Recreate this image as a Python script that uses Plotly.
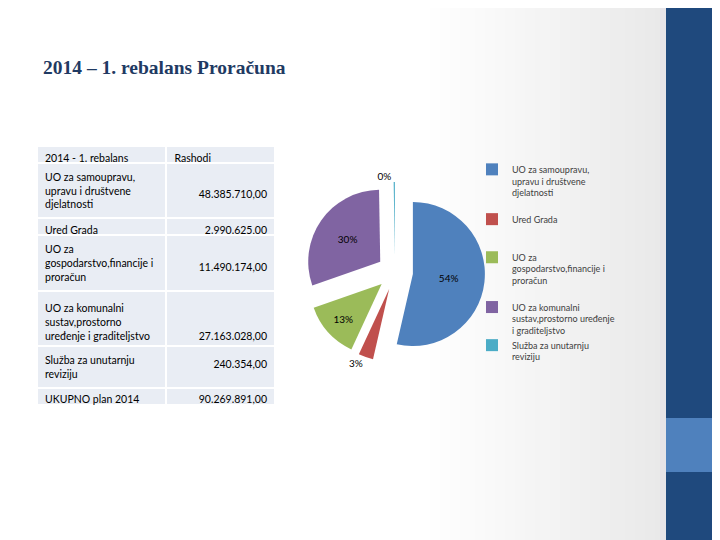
import plotly.graph_objects as go

# ---- data ----
legend_labels = [
    "UO za samoupravu,<br>upravu i društvene<br>djelatnosti<br> ",
    "Ured Grada<br> <br> ",
    "UO za<br>gospodarstvo,financije i<br>proračun<br> ",
    "UO za komunalni<br>sustav,prostorno uređenje<br>i graditeljstvo",
    "Služba za unutarnju<br>reviziju",
]
table_labels = [
    "UO za samoupravu,<br>upravu i društvene<br>djelatnosti",
    "Ured Grada",
    "UO za<br>gospodarstvo,financije i<br>proračun",
    "<br>UO za komunalni<br>sustav,prostorno<br>uređenje i graditeljstvo",
    "Služba za unutarnju<br>reviziju",
]
rashodi = [48385710, 2990625, 11490174, 27163028, 240354]
total_label = "UKUPNO plan 2014"
total_value = 90269891
header = ["2014 - 1. rebalans", "Rashodi"]
title_text = "2014 – 1. rebalans Proračuna"
colors = ["#4F81BD", "#C0504D", "#9BBB59", "#8064A2", "#4BACC6"]


def fmt_hr(v):
    s = f"{v:,.2f}"
    return s.replace(",", "X").replace(".", ",").replace("X", ".")


# page has an 8px body margin; figure fills the rest of the 720x540 window
OFF = 8
W, H = 720 - OFF, 540 - OFF


def px(x):
    return (x - OFF) / W


def py(y):
    return 1 - (y - OFF) / H


# values column bottom-aligned by leading blank lines
val_cells = []
for lab, v in zip(table_labels, rashodi):
    n = lab.count("<br>")
    val_cells.append("<br>" * n + fmt_hr(v))
col1 = table_labels + [total_label]
col2 = val_cells + [fmt_hr(total_value)]

tfont = dict(family="Lato, Liberation Sans, sans-serif", size=10.5, color="#000000")
fig = go.Figure()

fig.add_trace(go.Table(
    domain=dict(x=[px(37), px(276)], y=[0.0, py(146)]),
    columnwidth=[130, 109],
    header=dict(values=header, align=["left", "left"],
                fill_color="#E9EDF4", line=dict(color="white", width=2),
                font=tfont, height=17),
    cells=dict(values=[col1, col2], align=["left", "right"],
               fill_color="#E9EDF4", line=dict(color="white", width=2),
               font=tfont, height=17),
))

textpos = ["inside", "outside", "inside", "inside", "outside"]
fig.add_trace(go.Pie(
    labels=legend_labels,
    values=rashodi,
    sort=False,
    direction="clockwise",
    rotation=0,
    pull=[0.25] * 5,
    marker=dict(colors=colors, line=dict(width=0)),
    texttemplate="%{percent:.0%}",
    textposition=textpos,
    insidetextorientation="horizontal",
    textfont=dict(family="Lato, Liberation Sans, sans-serif", size=10, color="#000000"),
    domain=dict(x=[px(305), px(485)], y=[py(362), py(182)]),
    showlegend=True,
))

shapes = []
# subtle background gradient toward the right
n = 47
x0, x1 = 425, 660
for i in range(n):
    xa = x0 + (x1 - x0) * i / n
    xb = x0 + (x1 - x0) * (i + 1) / n + 0.5
    g = round(255 - (255 - 233) * (i + 0.5) / n)
    shapes.append(dict(type="rect", xref="paper", yref="paper",
                       x0=px(xa), x1=px(xb), y0=0, y1=1,
                       fillcolor=f"rgb({g},{g},{g})", line=dict(width=0), layer="below"))
shapes.append(dict(type="rect", xref="paper", yref="paper", x0=px(660), x1=px(666), y0=0, y1=1,
                   fillcolor="#E6E4E8", line=dict(width=0), layer="below"))
shapes.append(dict(type="rect", xref="paper", yref="paper", x0=px(666), x1=1, y0=0, y1=1,
                   fillcolor="#1F497D", line=dict(width=0), layer="below"))
shapes.append(dict(type="rect", xref="paper", yref="paper", x0=px(666), x1=1,
                   y0=py(472), y1=py(418),
                   fillcolor="#4F81BD", line=dict(width=0), layer="below"))

fig.update_layout(
    width=W, height=H,
    margin=dict(l=0, r=0, t=0, b=0),
    paper_bgcolor="white",
    plot_bgcolor="white",
    shapes=shapes,
    title=dict(text=f"<b>{title_text}</b>", x=px(43), xanchor="left",
               y=py(67), yanchor="middle",
               font=dict(family="Liberation Serif, DejaVu Serif, serif", size=19.5, color="#1F3A63")),
    legend=dict(x=px(472), y=py(157), xanchor="left", yanchor="top",
                bgcolor="rgba(0,0,0,0)", valign="top",
                font=dict(family="Lato, Liberation Sans, sans-serif", size=9, color="#404040"),
                tracegroupgap=0, itemwidth=30),
)

fig.write_html("out.html")
